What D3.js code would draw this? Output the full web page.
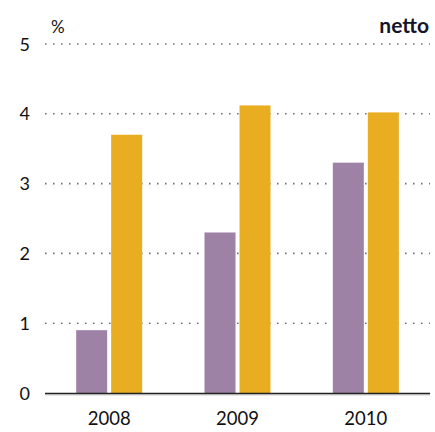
<!DOCTYPE html>
<html>
<head>
<meta charset="utf-8">
<script src="https://cdn.jsdelivr.net/npm/d3@7"></script>
<style>
body{margin:0;background:#fff;}
text{font-family:Lato,"Open Sans",sans-serif;fill:#111;}
</style>
</head>
<body>
<script>
var years = ["2008","2009","2010"];
var series1 = [0.9, 2.3, 3.3];
var series2 = [3.7, 4.12, 4.02];
var yTicks = [0,1,2,3,4,5];
var colors = ["#9e82a6","#e8ad21"];

var width = 435, height = 432;
var padL = 45, padR = 430, padT = 44, padB = 393;

var svg = d3.select("body").append("svg")
    .attr("width", width)
    .attr("height", height);

var x = d3.scaleBand().domain(years).range([padL, padR]);
var y = d3.scaleLinear().domain([0,5]).range([padB, padT]);

// dotted grid
svg.append("g")
    .selectAll("line")
    .data(yTicks.slice(1)).enter()
    .append("line")
    .attr("x1", padL).attr("x2", padR)
    .attr("y1", function(d){return y(d);})
    .attr("y2", function(d){return y(d);})
    .attr("stroke", "#777")
    .attr("stroke-width", 1.6)
    .attr("stroke-dasharray", "1.6,6.4");

var barW = 31, gap = 4;
var rows = years.map(function(yr,i){return {yr:yr, v:[series1[i], series2[i]]};});

var grp = svg.append("g")
    .selectAll("g")
    .data(rows).enter()
    .append("g");

grp.selectAll("rect")
    .data(function(d){return d.v.map(function(v,k){return {yr:d.yr, v:v, k:k};});})
    .enter().append("rect")
    .attr("x", function(d){
        var c = x(d.yr) + x.bandwidth()/2;
        return d.k == 0 ? c - gap/2 - barW : c + gap/2;
    })
    .attr("width", barW)
    .attr("y", function(d){return y(d.v);})
    .attr("height", function(d){return padB - y(d.v);})
    .attr("fill", function(d){return colors[d.k];});

// baseline
svg.append("line")
    .attr("x1", padL).attr("x2", padR)
    .attr("y1", padB + 0.5).attr("y2", padB + 0.5)
    .attr("stroke", "#222").attr("stroke-width", 1.5);
svg.append("line")
    .attr("x1", padL).attr("x2", padR)
    .attr("y1", padB + 1.8).attr("y2", padB + 1.8)
    .attr("stroke", "#aaa").attr("stroke-width", 1);

// y labels
svg.append("g")
    .selectAll("text")
    .data(yTicks).enter()
    .append("text")
    .attr("x", 30)
    .attr("y", function(d){return y(d) + 6.5;})
    .attr("text-anchor", "end")
    .attr("font-size", 18)
    .text(function(d){return d;});

// x labels
svg.append("g")
    .selectAll("text")
    .data(years).enter()
    .append("text")
    .attr("x", function(d){return x(d) + x.bandwidth()/2;})
    .attr("y", 425)
    .attr("text-anchor", "middle")
    .attr("font-size", 18.5)
    .text(function(d){return d;});

svg.append("text")
    .attr("x", 51).attr("y", 33)
    .attr("font-size", 17)
    .text("%");

svg.append("text")
    .attr("x", 429).attr("y", 33)
    .attr("text-anchor", "end")
    .attr("font-size", 21)
    .attr("font-weight", "bold")
    .style("fill", "#14142b")
    .text("netto");
</script>
</body>
</html>
